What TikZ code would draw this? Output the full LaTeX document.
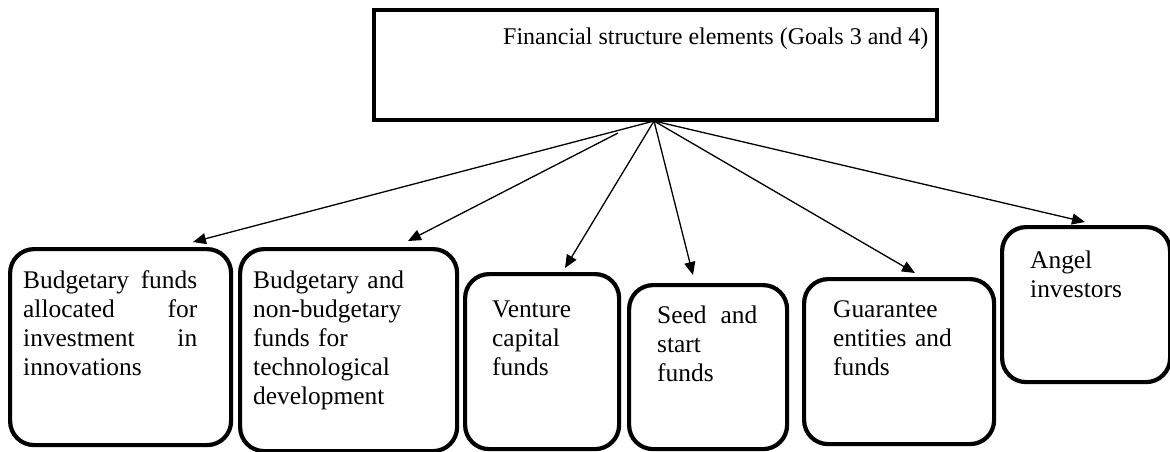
\documentclass[tikz,border=0pt]{standalone}
\usepackage{fontspec}
\setmainfont{Liberation Serif}
\usetikzlibrary{arrows.meta}
\tikzset{
  box/.style={draw=black, line width=4.2pt, rounded corners=24pt, anchor=north west, inner sep=0pt},
  topbox/.style={draw=black, line width=4.2pt, anchor=north west, inner sep=0pt},
  txt/.style={anchor=north west, inner sep=0pt, align=left, font=\fontsize{25.4}{29}\selectfont},
  conn/.style={line width=1.3pt, -{Triangle[length=13pt,width=11pt]}},
}
\begin{document}
\begin{tikzpicture}[x=1pt,y=-1pt]
\useasboundingbox (0,0) rectangle (1170,452);
% top box
\node[topbox, minimum width=563pt, minimum height=110pt] (top) at (372,8) {};
\node[anchor=base west, inner sep=0pt, font=\fontsize{24}{29}\selectfont] (title) at (503,45) {Financial structure elements (Goals 3 and 4)};
% boxes
\node[box, minimum width=221pt, minimum height=196pt] (b1) at (8,247) {};
\node[box, minimum width=217pt, minimum height=202pt] (b2) at (238,247) {};
\node[box, minimum width=154pt, minimum height=175pt] (b3) at (463,272) {};
\node[box, minimum width=158pt, minimum height=164pt] (b4) at (627,283) {};
\node[box, minimum width=190pt, minimum height=165pt] (b5) at (802,277) {};
\node[box, minimum width=168pt, minimum height=155pt] (b6) at (1000,225) {};
% texts
\node[txt, text width=174pt] (t1) at (23,268) {\strut Budgetary\hfill funds\\allocated\hfill for\\investment\hfill in\\innovations};
\node[txt, text width=190pt] (t2) at (253,268) {\strut Budgetary and\\non-budgetary\\funds for\\technological\\development};
\node[txt, text width=120pt] (t3) at (492,297) {\strut Venture\\capital\\funds};
\node[txt, text width=120pt] (t4) at (657,303) {\strut\makebox[100pt][s]{Seed\hfill and}\\start\\funds};
\node[txt, text width=150pt] (t5) at (833,297) {\strut Guarantee\\entities and\\funds};
\node[txt, text width=120pt] (t6) at (1030,248) {\strut Angel\\investors};
% connectors
\coordinate (hub) at (654,121);
\coordinate (s2) at (618,133);
\coordinate (e1) at (193,242);
\coordinate (e2) at (408,241);
\coordinate (e3) at (565,268);
\coordinate (e4) at (693,275);
\coordinate (e5) at (915,273);
\coordinate (e6) at (1085,222);
\draw[conn] (hub) -- (e1);
\draw[conn] (s2) -- (e2);
\draw[conn] (hub) -- (e3);
\draw[conn] (hub) -- (e4);
\draw[conn] (hub) -- (e5);
\draw[conn] (hub) -- (e6);
\end{tikzpicture}
\end{document}
